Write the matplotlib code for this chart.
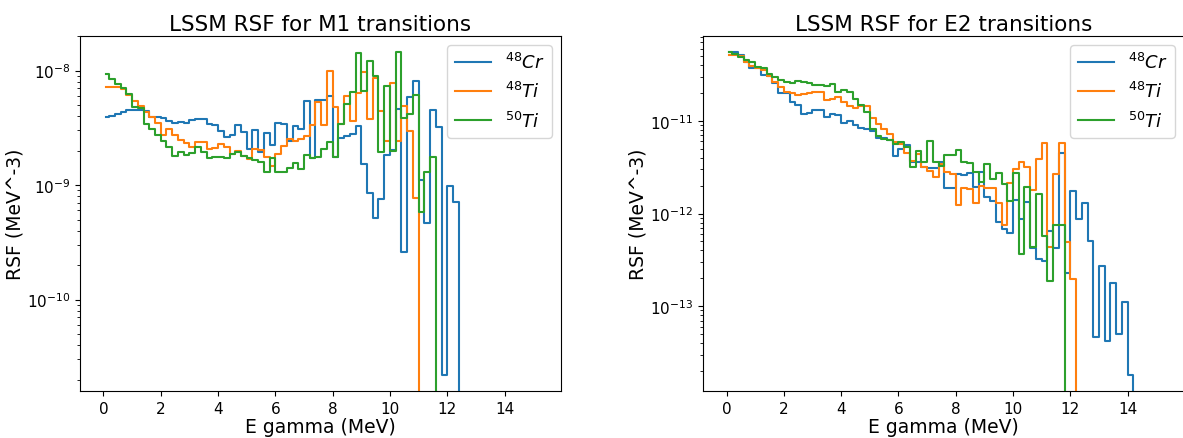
# LSSM radiative strength functions, M1 and E2
import numpy as np
import matplotlib.pyplot as plt

# bin width of the gamma energy grid (MeV)
dE = 0.2

# M1 strength, one value per 0.2 MeV bin starting at 0
m1_cr48 = [3.92e-9, 4.05e-9, 4.19e-9, 4.38e-9, 4.51e-9, 4.51e-9, 4.51e-9, 4.45e-9, 3.92e-9, 3.90e-9,
           3.83e-9, 3.64e-9, 3.46e-9, 3.56e-9, 3.49e-9, 3.71e-9, 3.79e-9, 3.79e-9, 3.39e-9, 3.32e-9,
           2.97e-9, 2.62e-9, 2.71e-9, 3.36e-9, 2.92e-9, 2.07e-9, 3.03e-9, 1.95e-9, 2.86e-9, 2.24e-9,
           3.49e-9, 3.42e-9, 2.43e-9, 3.27e-9, 3.10e-9, 5.38e-9, 1.73e-9, 5.55e-9, 5.55e-9, 6.01e-9,
           1.75e-9, 2.56e-9, 2.69e-9, 2.80e-9, 3.27e-9, 1.53e-9, 8.47e-10, 5.12e-10, 7.58e-10, 1.84e-9,
           2.03e-9, 4.63e-9, 2.61e-10, 5.89e-9, 8.18e-9, 1.11e-9, 4.68e-10, 4.54e-9, 3.21e-9, 2.20e-11,
           9.90e-10, 7.13e-10]
m1_ti48 = [7.16e-9, 7.16e-9, 7.16e-9, 6.92e-9, 6.17e-9, 5.47e-9, 4.94e-9, 4.33e-9, 3.97e-9, 3.47e-9,
           2.76e-9, 3.10e-9, 2.71e-9, 2.48e-9, 2.32e-9, 2.17e-9, 2.37e-9, 2.37e-9, 2.07e-9, 2.11e-9,
           2.29e-9, 2.14e-9, 1.87e-9, 2.00e-9, 1.81e-9, 1.69e-9, 2.07e-9, 2.04e-9, 1.75e-9, 1.48e-9,
           1.87e-9, 2.21e-9, 2.53e-9, 2.45e-9, 2.53e-9, 2.66e-9, 3.33e-9, 5.33e-9, 3.33e-9, 1.00e-8,
           4.79e-9, 3.39e-9, 5.98e-9, 3.66e-9, 6.38e-9, 9.75e-9, 3.81e-9, 8.67e-9, 4.45e-9, 2.45e-9,
           7.81e-9, 2.45e-9, 4.94e-9, 2.99e-9, 7.73e-10]
m1_ti50 = [9.27e-9, 8.46e-9, 7.57e-9, 7.02e-9, 6.26e-9, 4.79e-9, 4.72e-9, 3.42e-9, 3.10e-9, 2.71e-9,
           2.42e-9, 2.17e-9, 1.81e-9, 1.94e-9, 1.84e-9, 1.90e-9, 2.14e-9, 1.94e-9, 1.73e-9, 1.77e-9,
           1.76e-9, 1.72e-9, 1.87e-9, 1.94e-9, 1.79e-9, 1.72e-9, 1.64e-9, 1.60e-9, 1.30e-9, 1.72e-9,
           1.30e-9, 1.31e-9, 1.41e-9, 1.56e-9, 1.38e-9, 1.84e-9, 1.73e-9, 1.75e-9, 2.07e-9, 2.37e-9,
           1.75e-9, 3.39e-9, 5.12e-9, 6.48e-9, 1.43e-8, 6.58e-9, 1.22e-8, 9.04e-9, 1.94e-9, 7.40e-9,
           1.97e-9, 1.45e-8, 3.86e-9, 4.19e-9, 6.17e-9, 5.87e-10, 1.29e-9, 1.75e-9]

# E2 strength
e2_cr48 = [5.51e-11, 5.48e-11, 5.19e-11, 4.30e-11, 3.73e-11, 3.73e-11, 3.13e-11, 3.08e-11, 2.54e-11, 2.00e-11,
           2.00e-11, 1.59e-11, 1.49e-11, 1.19e-11, 1.21e-11, 1.30e-11, 1.30e-11, 1.10e-11, 1.17e-11, 1.15e-11,
           9.51e-12, 1.00e-11, 9.05e-12, 8.34e-12, 8.10e-12, 7.86e-12, 6.48e-12, 6.48e-12, 6.28e-12, 4.19e-12,
           4.99e-12, 5.45e-12, 3.57e-12, 3.58e-12, 3.17e-12, 3.09e-12, 3.09e-12, 3.58e-12, 1.89e-12, 1.89e-12,
           2.68e-12, 2.58e-12, 2.72e-12, 1.93e-12, 2.80e-12, 1.51e-12, 1.38e-12, 8.20e-13, 6.84e-13, 6.19e-13,
           1.40e-12, 8.77e-13, 1.32e-12, 4.27e-13, 3.21e-13, 3.11e-13, 6.40e-13, 4.27e-13, 4.46e-12, 2.29e-13,
           1.73e-12, 8.77e-13, 1.30e-12, 5.11e-13, 4.64e-14, 2.71e-13, 4.27e-14, 1.79e-13, 5.04e-14, 1.11e-13,
           1.82e-14]
e2_ti48 = [5.15e-11, 5.15e-11, 4.94e-11, 4.30e-11, 3.95e-11, 3.73e-11, 3.55e-11, 3.08e-11, 2.61e-11, 2.31e-11,
           2.04e-11, 1.99e-11, 1.88e-11, 1.95e-11, 1.99e-11, 2.04e-11, 2.04e-11, 1.69e-11, 1.73e-11, 1.80e-11,
           1.59e-11, 1.46e-11, 1.39e-11, 1.44e-11, 1.44e-11, 1.06e-11, 9.17e-12, 8.20e-12, 7.24e-12, 5.89e-12,
           5.58e-12, 4.52e-12, 3.70e-12, 4.41e-12, 3.17e-12, 2.91e-12, 2.49e-12, 3.44e-12, 2.82e-12, 2.68e-12,
           1.24e-12, 1.87e-12, 1.85e-12, 1.30e-12, 1.99e-12, 1.89e-12, 1.89e-12, 1.30e-12, 7.50e-13, 2.16e-12,
           3.01e-12, 3.58e-12, 3.17e-12, 1.80e-12, 3.86e-12, 5.72e-12, 4.34e-13, 2.68e-12, 5.79e-12, 4.95e-13,
           1.99e-13]
e2_ti50 = [5.51e-11, 5.28e-11, 4.86e-11, 4.55e-11, 4.30e-11, 3.80e-11, 3.73e-11, 3.21e-11, 2.96e-11, 2.77e-11,
           2.61e-11, 2.55e-11, 2.68e-11, 2.61e-11, 2.55e-11, 2.46e-11, 2.46e-11, 2.40e-11, 2.51e-11, 2.04e-11,
           2.16e-11, 2.04e-11, 1.73e-11, 1.49e-11, 1.24e-11, 8.20e-12, 6.81e-12, 6.44e-12, 6.28e-12, 5.65e-12,
           5.89e-12, 5.24e-12, 3.19e-12, 4.78e-12, 3.58e-12, 6.13e-12, 3.61e-12, 3.27e-12, 4.30e-12, 4.30e-12,
           4.90e-12, 3.61e-12, 3.52e-12, 2.84e-12, 2.21e-12, 3.44e-12, 2.33e-12, 2.72e-12, 2.09e-12, 1.36e-12,
           2.75e-12, 3.63e-13, 1.93e-12, 4.34e-13, 1.63e-12, 5.74e-13, 1.89e-13, 7.43e-13, 7.55e-13]

labels = [r'$^{48}Cr$', r'$^{48}Ti$', r'$^{50}Ti$']
n_bins = 77  # grid length, strength is zero above the last listed bin


def padded(vals):
    out = np.zeros(n_bins)
    out[:len(vals)] = vals
    return out


# bin centres; with where='mid' each value covers its 0.2 MeV bin
E = (np.arange(n_bins) + 0.5) * dE

fig = plt.figure(figsize=(11.83, 4.39), dpi=100)
ax1 = fig.add_axes([0.0676, 0.1071, 0.4066, 0.8087])
ax2 = fig.add_axes([0.5943, 0.1071, 0.4066, 0.8087])

for ax, series, title in [
        (ax1, [m1_cr48, m1_ti48, m1_ti50], 'LSSM RSF for M1 transitions'),
        (ax2, [e2_cr48, e2_ti48, e2_ti50], 'LSSM RSF for E2 transitions')]:
    for vals, lab in zip(series, labels):
        ax.step(E, padded(vals), where='mid', label=lab, lw=1.5)
    ax.set_yscale('log')
    ax.set_xlim(-0.82, 15.97)
    ax.set_xticks(np.arange(0, 15, 2))
    ax.set_title(title, fontsize=15.5, pad=4)
    ax.set_xlabel('E gamma (MeV)', fontsize=13.5, labelpad=1)
    ax.set_ylabel('RSF (MeV^-3)', fontsize=13.5, labelpad=2)
    ax.tick_params(labelsize=11)
    ax.legend(fontsize=13, loc='upper right')

plt.savefig('out.png', dpi=100)
